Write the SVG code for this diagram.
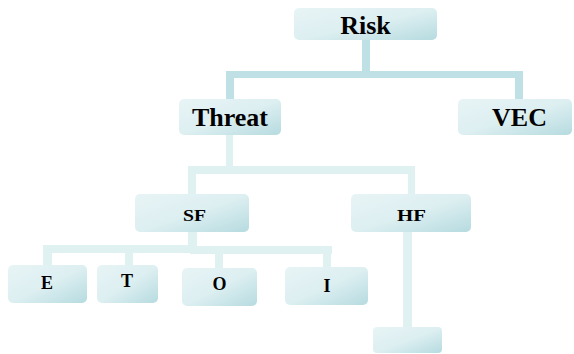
<svg xmlns="http://www.w3.org/2000/svg" width="574" height="354" viewBox="0 0 574 354">
<defs>
<linearGradient id="bx" x1="0" y1="0" x2="1" y2="1">
<stop offset="0" stop-color="#e8f4f6"/>
<stop offset="0.5" stop-color="#ddeff1"/>
<stop offset="1" stop-color="#b6dbe0"/>
</linearGradient>
</defs>
<style>
.box{fill:url(#bx)}
.t{font-family:"Liberation Serif","Times New Roman",serif;font-weight:bold;fill:#000;text-anchor:middle}
.big{font-size:26px}
.mid{font-size:17px}
.sm{font-size:18px}
.c1{fill:#bfe0e4}
.c2{fill:#e0f1f2}
</style>
<g id="connectors">
<rect class="c1" x="362" y="40" width="8" height="32"/>
<rect class="c1" x="226" y="71" width="297" height="7"/>
<rect class="c1" x="226" y="71" width="8" height="28"/>
<rect class="c1" x="515" y="71" width="8" height="28"/>
<rect class="c2" x="226" y="135" width="7" height="32"/>
<rect class="c2" x="188" y="166" width="227" height="8"/>
<rect class="c2" x="188" y="166" width="8" height="28"/>
<rect class="c2" x="408" y="166" width="7" height="28"/>
<rect class="c2" x="188" y="232" width="9" height="15"/>
<rect class="c2" x="43" y="245" width="150" height="8"/>
<rect class="c2" x="190" y="246" width="142" height="8"/>
<rect class="c2" x="43" y="245" width="9" height="20"/>
<rect class="c2" x="125" y="245" width="8" height="20"/>
<rect class="c2" x="215" y="246" width="8" height="22"/>
<rect class="c2" x="323" y="246" width="8" height="21"/>
<rect class="c2" x="403" y="232" width="9" height="95"/>
</g>
<g id="risk"><rect class="box" x="294" y="8" width="143" height="32" rx="5"/><text class="t big" x="365.5" y="34">Risk</text></g>
<g id="threat"><rect class="box" x="179" y="99" width="102" height="36" rx="5"/><text class="t big" x="230" y="126">Threat</text></g>
<g id="vec"><rect class="box" x="458" y="99" width="114" height="36" rx="5"/><text class="t big" x="519.5" y="126">VEC</text></g>
<g id="sf"><rect class="box" x="135" y="194" width="114" height="38" rx="5"/><text class="t mid" x="194.5" y="221" textLength="23" lengthAdjust="spacingAndGlyphs">SF</text></g>
<g id="hf"><rect class="box" x="351" y="194" width="120" height="38" rx="5"/><text class="t mid" x="411.5" y="221" textLength="29" lengthAdjust="spacingAndGlyphs">HF</text></g>
<g id="e"><rect class="box" x="8" y="265" width="79" height="38" rx="5"/><text class="t sm" x="47" y="289">E</text></g>
<g id="t"><rect class="box" x="97" y="265" width="61" height="38" rx="5"/><text class="t sm" x="127" y="287">T</text></g>
<g id="o"><rect class="box" x="182" y="268" width="75" height="38" rx="5"/><text class="t sm" x="219.5" y="290">O</text></g>
<g id="i"><rect class="box" x="285" y="267" width="83" height="38" rx="5"/><text class="t sm" x="327" y="292">I</text></g>
<g id="blank"><rect class="box" x="373" y="327" width="69" height="26" rx="4"/></g>
</svg>
